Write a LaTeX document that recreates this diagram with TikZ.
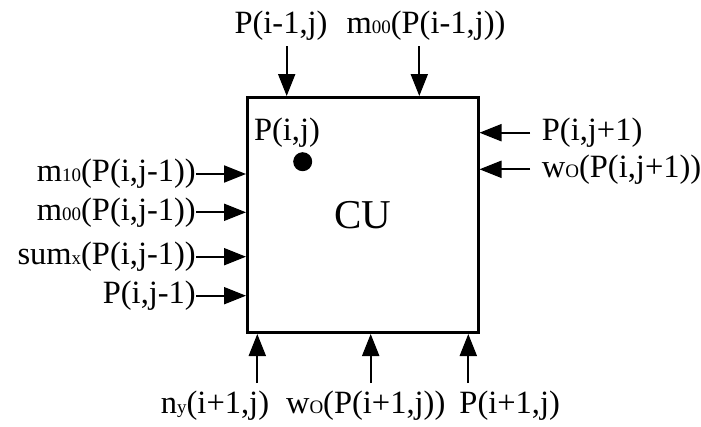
\documentclass[tikz,border=0pt]{standalone}
\usepackage{fontspec}
\setmainfont{Liberation Serif}
\usetikzlibrary{arrows.meta}
\newcommand\sbs[1]{{\fontsize{19}{19}\selectfont #1}}
\tikzset{
  arr/.style={-{Triangle[length=22pt,width=17pt]}, line width=2pt},
  lbl/.style={inner sep=0pt, font=\fontsize{32.5}{36}\selectfont},
}
\begin{document}
\begin{tikzpicture}[x=1pt,y=-1pt]
\useasboundingbox (0,0) rectangle (701,426);
% box
\node[draw, line width=3pt, minimum width=230.5pt, minimum height=235pt, inner sep=0pt,
      font=\fontsize{41}{44}\selectfont] (cu) at (362.75,215) {CU};
\node[lbl, anchor=base] (pij) at (287,140) {P(i,j)};
\fill (302.7,161.7) circle (9.5);
% top
\node[lbl, anchor=base] (lt1) at (281,33) {P(i-1,j)};
\node[lbl, anchor=base] (lt2) at (426,33) {m\sbs{00}(P(i-1,j))};
\coordinate (t1) at (286.7,46);
\coordinate (t2) at (419.3,46);
\draw[arr] (t1) -- (t1 |- cu.north);
\draw[arr] (t2) -- (t2 |- cu.north);
% left
\node[lbl, anchor=east] (l1) at (196,174) {m\sbs{10}(P(i,j-1))};
\node[lbl, anchor=east] (l2) at (196,212.3) {m\sbs{00}(P(i,j-1))};
\node[lbl, anchor=east] (l3) at (196,256.7) {sum\sbs{x}(P(i,j-1))};
\node[lbl, anchor=east] (l4) at (196,295.7) {P(i,j-1)};
\foreach \n in {l1,l2,l3,l4}{
  \draw[arr] (\n.east) -- (\n.east -| cu.west);
}
% right
\node[lbl, anchor=west] (r1) at (541.7,132.7) {P(i,j+1)};
\node[lbl, anchor=west] (r2) at (541.7,169.3) {w\sbs{O}(P(i,j+1))};
\coordinate (rc1) at (530,132.7);
\coordinate (rc2) at (530,169.3);
\draw[arr] (rc1) -- (rc1 -| cu.east);
\draw[arr] (rc2) -- (rc2 -| cu.east);
% bottom
\node[lbl, anchor=base] (b1) at (215,413) {n\sbs{y}(i+1,j)};
\node[lbl, anchor=base] (b2) at (365.7,413) {w\sbs{O}(P(i+1,j))};
\node[lbl, anchor=base] (b3) at (509.7,413) {P(i+1,j)};
\coordinate (bc1) at (257.3,383);
\coordinate (bc2) at (370.7,383);
\coordinate (bc3) at (468.3,383);
\draw[arr] (bc1) -- (bc1 |- cu.south);
\draw[arr] (bc2) -- (bc2 |- cu.south);
\draw[arr] (bc3) -- (bc3 |- cu.south);
\end{tikzpicture}
\end{document}
